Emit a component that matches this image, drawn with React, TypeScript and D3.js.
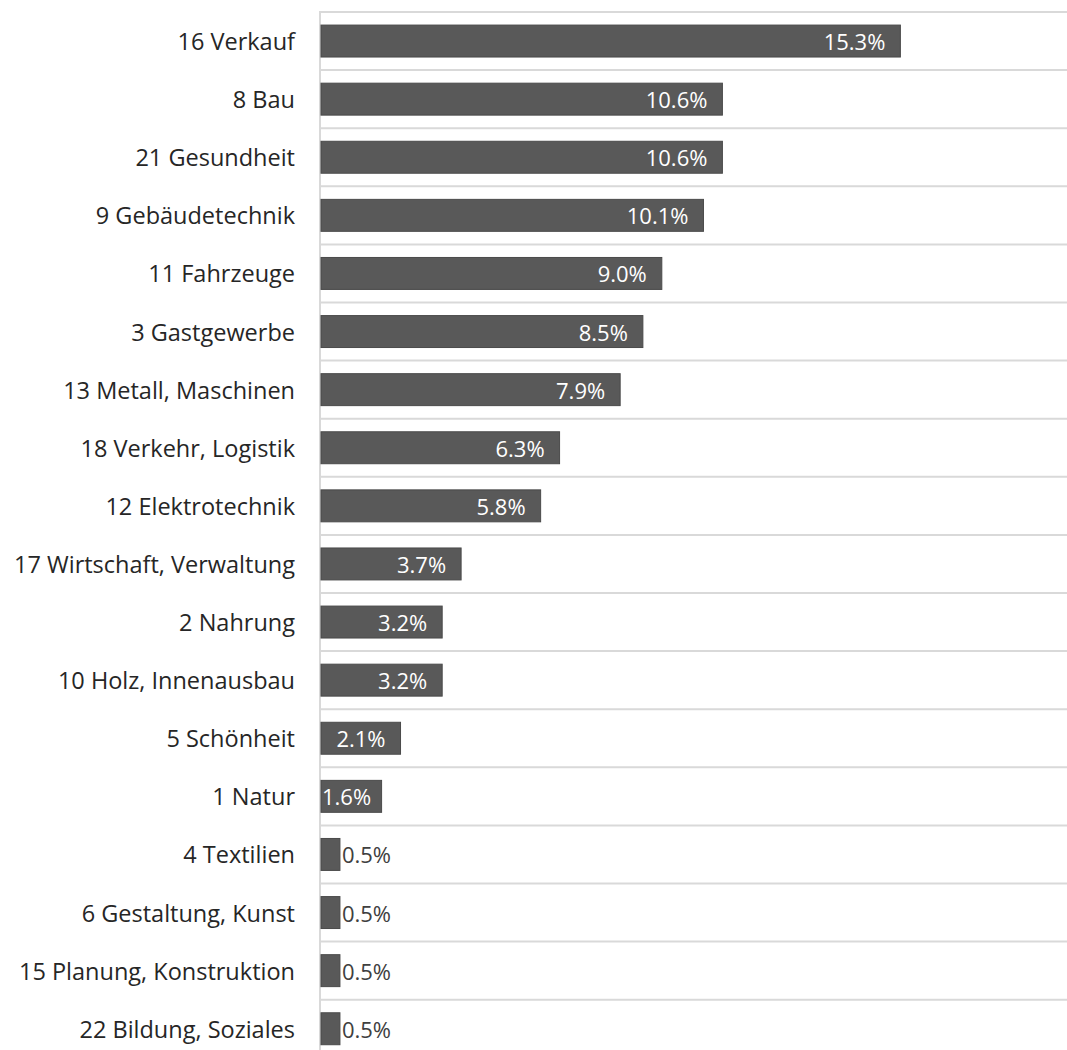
import React from "react";
import * as d3 from "d3";

const categories = [
  "16 Verkauf",
  "8 Bau",
  "21 Gesundheit",
  "9 Gebäudetechnik",
  "11 Fahrzeuge",
  "3 Gastgewerbe",
  "13 Metall, Maschinen",
  "18 Verkehr, Logistik",
  "12 Elektrotechnik",
  "17 Wirtschaft, Verwaltung",
  "2 Nahrung",
  "10 Holz, Innenausbau",
  "5 Schönheit",
  "1 Natur",
  "4 Textilien",
  "6 Gestaltung, Kunst",
  "15 Planung, Konstruktion",
  "22 Bildung, Soziales",
];
const values = [15.3, 10.6, 10.6, 10.1, 9.0, 8.5, 7.9, 6.3, 5.8, 3.7, 3.2, 3.2, 2.1, 1.6, 0.5, 0.5, 0.5, 0.5];
const xMax = 19.7;

const W = 1067;
const H = 1050;
const left = 321;
const top = 12;
const rowH = 58.1;
const FONT = "'Open Sans', 'Noto Sans', sans-serif";

export default function App() {
  const x = d3.scaleLinear().domain([0, xMax]).range([left, W]);
  const y = d3
    .scaleBand<string>()
    .domain(categories)
    .range([top, top + rowH * categories.length])
    .paddingInner(0.45)
    .paddingOuter(0.225);
  const bw = y.bandwidth();
  const step = y.step();
  const labelW = 50;
  return (
    <svg width={W} height={H} style={{ position: "absolute", left: 0, top: 0, background: "#fff" }}>
      {categories.map((c, i) => {
        const y0 = top + i * step;
        return <line key={"g" + i} x1={320} x2={W} y1={y0} y2={y0} stroke="#d9d9d9" strokeWidth={2} />;
      })}
      <line x1={320} x2={320} y1={top - 1} y2={H} stroke="#d9d9d9" strokeWidth={2} />
      {categories.map((c, i) => {
        const v = values[i];
        const by = y(c)!;
        const x1 = x(v);
        const cy = by + bw / 2;
        const inside = x1 - left > labelW + 2;
        let tx = x1 - 15;
        let anchor: "end" | "start" = "end";
        if (inside && tx - labelW < left + 1) {
          tx = left + 1;
          anchor = "start";
        }
        const label = v.toFixed(1) + "%";
        return (
          <g key={c}>
            <rect x={left} y={by} width={x1 - left} height={bw} fill="#595959" stroke="#4a4a4a" strokeWidth={1} />
            <text
              x={295}
              y={cy}
              textAnchor="end"
              dominantBaseline="central"
              fontFamily={FONT}
              fontSize={23.5}
              fill="#262626"
            >
              {c}
            </text>
            {inside ? (
              <text x={tx} y={cy} textAnchor={anchor} dominantBaseline="central" fontFamily={FONT} fontSize={22} fill="#ffffff">
                {label}
              </text>
            ) : (
              <text x={x1 + 2} y={cy} textAnchor="start" dominantBaseline="central" fontFamily={FONT} fontSize={22} fill="#404040">
                {label}
              </text>
            )}
          </g>
        );
      })}
    </svg>
  );
}
